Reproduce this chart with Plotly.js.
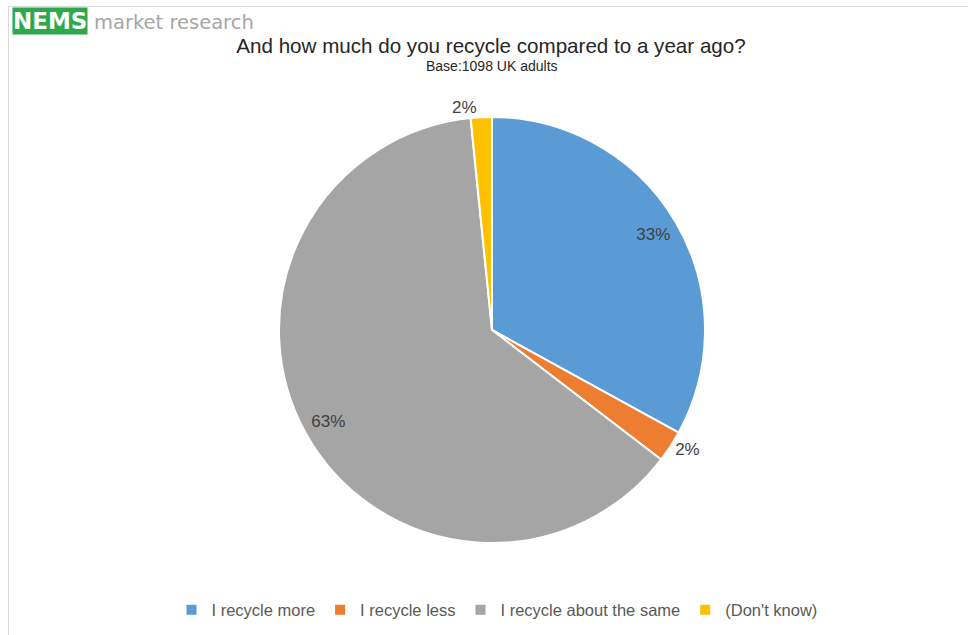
<!DOCTYPE html>
<html>
<head>
<meta charset="utf-8">
<script src="https://cdn.plot.ly/plotly-3.0.1.min.js"></script>
<style>
  html, body { margin: 0; padding: 0; background: #fff; }
  #wrap { position: relative; width: 968px; height: 635px; overflow: hidden; }
  #chart { position: absolute; left: 0; top: 0; width: 968px; height: 635px; }
  #frame { position: absolute; left: 8px; top: 6px; width: 968px; height: 640px;
           border-top: 1px solid #d9d9d9; border-left: 1px solid #d9d9d9; pointer-events: none; }
</style>
</head>
<body>
<div id="wrap">
  <div id="chart"></div>
  <div id="frame"></div>
</div>
<script>
const categories = ['I recycle more', 'I recycle less', 'I recycle about the same', "(Don't know)"];
const values = [33.0, 2.4, 63.0, 1.6];
const colors = ['#5B9BD5', '#ED7D31', '#A5A5A5', '#FFC000'];
const outsideLabelPositions = ['none', 'outside', 'none', 'outside'];
const insideLabelPositions = ['inside', 'none', 'inside', 'none'];

const FONT = '"Liberation Sans Narrow", "Liberation Sans", Arial, sans-serif';
const LABEL_FONT = { family: FONT, size: 17, color: '#404040' };

// main pie: slices, legend and the outside labels of the small slices
const pieTrace = {
  type: 'pie',
  labels: categories,
  values: values,
  sort: false,
  direction: 'clockwise',
  rotation: 0,
  marker: { colors: colors, line: { color: '#ffffff', width: 2 } },
  texttemplate: '%{percent:.0%}',
  textposition: outsideLabelPositions,
  textfont: LABEL_FONT,
  hoverinfo: 'label+percent',
  showlegend: true
};

// transparent ring over the same data, so the inside labels sit near the rim as in the original
const labelRing = {
  type: 'pie',
  labels: categories,
  values: values,
  sort: false,
  direction: 'clockwise',
  rotation: 0,
  hole: 0.76,
  marker: { colors: ['rgba(0,0,0,0)', 'rgba(0,0,0,0)', 'rgba(0,0,0,0)', 'rgba(0,0,0,0)'], line: { width: 0 } },
  texttemplate: '%{percent:.0%}',
  textposition: insideLabelPositions,
  insidetextorientation: 'horizontal',
  textfont: LABEL_FONT,
  hoverinfo: 'skip',
  showlegend: false
};

const layout = {
  width: 968,
  height: 635,
  margin: { l: 16, r: 0, t: 117, b: 92 },
  paper_bgcolor: '#ffffff',
  plot_bgcolor: '#ffffff',
  font: { family: FONT, color: '#595959' },
  title: {
    text: 'And how much do you recycle compared to a year ago?',
    font: { family: FONT, size: 20.6, color: '#262626' },
    x: 491 / 968, xref: 'container', xanchor: 'center',
    y: 1 - 46 / 635, yref: 'container', yanchor: 'middle'
  },
  legend: {
    orientation: 'h',
    xref: 'container', yref: 'container',
    x: 497 / 968, xanchor: 'center',
    y: 1 - 610 / 635, yanchor: 'middle',
    font: { family: FONT, size: 16.5, color: '#595959' },
    itemclick: false
  },
  annotations: [
    {
      text: 'Base:1098 UK adults',
      xref: 'paper', yref: 'paper',
      x: 0.5, y: 1 + (117 - 66) / 426, xanchor: 'center', yanchor: 'middle',
      showarrow: false,
      font: { family: FONT, size: 14, color: '#262626' }
    },
    {
      text: '<b>NEMS</b>',
      xref: 'paper', yref: 'paper',
      x: (12 - 16) / 952, y: 1 + (117 - 21) / 426, xanchor: 'left', yanchor: 'middle',
      showarrow: false,
      bgcolor: '#2EA84A',
      borderpad: 0,
      font: { family: '"DejaVu Sans", Verdana, sans-serif', size: 23, color: '#ffffff' }
    },
    {
      text: 'market research',
      xref: 'paper', yref: 'paper',
      x: (92 - 16) / 952, y: 1 + (117 - 22) / 426, xanchor: 'left', yanchor: 'middle',
      showarrow: false,
      font: { family: '"DejaVu Sans", Verdana, sans-serif', size: 19.5, color: '#a6a6a6' }
    }
  ]
};

Plotly.newPlot('chart', [pieTrace, labelRing], layout, { displayModeBar: false, staticPlot: true });
</script>
</body>
</html>
